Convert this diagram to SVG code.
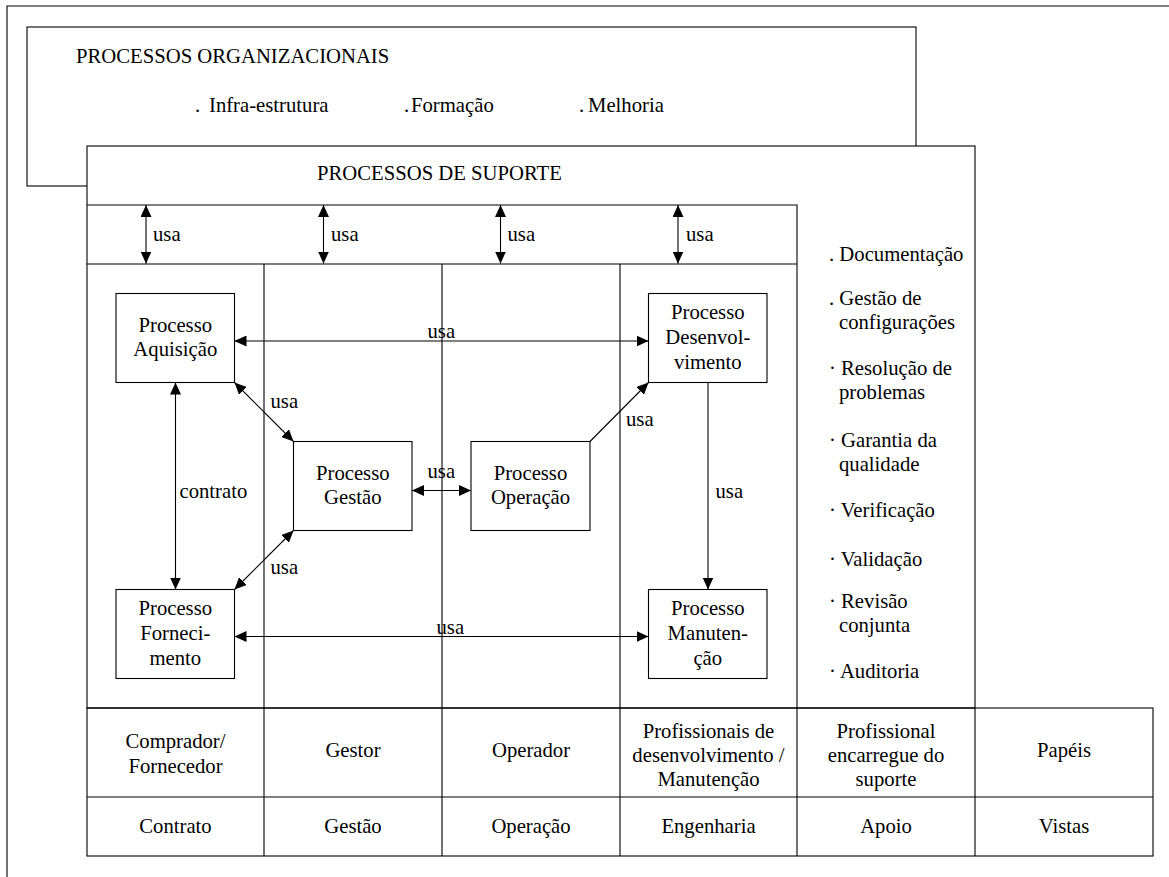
<svg xmlns="http://www.w3.org/2000/svg" width="1169" height="877" viewBox="0 0 1169 877" font-family="'Liberation Serif', Tinos, 'DejaVu Serif', 'Noto Serif', serif">
  <style>
    .ln { fill: none; stroke: #000; stroke-width: 1.1; }
    .box { fill: #fff; stroke: #000; stroke-width: 1.1; }
    .t { font-family: 'Liberation Serif', Tinos, 'DejaVu Serif', 'Noto Serif', serif; font-size: 20.7px; fill: #000; }
    .c { text-anchor: middle; }
    .con { fill: none; stroke: #000; stroke-width: 1.1; }
    .both { marker-start: url(#arr); marker-end: url(#arr); }
    .one { marker-end: url(#arr); }
  </style>
  <defs>
    <marker id="arr" markerUnits="userSpaceOnUse" markerWidth="12" markerHeight="11" refX="12" refY="5.5" orient="auto-start-reverse">
      <path d="M0,0 L12,5.5 L0,11 z" fill="#000"/>
    </marker>
  </defs>

  <rect width="1169" height="877" fill="#fff"/>

  <!-- page frame -->
  <path class="ln" d="M7,880 V6 H1172"/>

  <!-- organizational processes -->
  <g id="org">
    <rect class="box" x="27" y="27" width="889" height="159"/>
    <text class="t" x="76" y="63">PROCESSOS ORGANIZACIONAIS</text>
    <text class="t" x="195" y="112">.</text>
    <text class="t" x="209" y="112">Infra-estrutura</text>
    <text class="t" x="404" y="112">.</text>
    <text class="t" x="411" y="112">Formação</text>
    <text class="t" x="579" y="112">.</text>
    <text class="t" x="588" y="112">Melhoria</text>
  </g>

  <!-- support processes -->
  <g id="suporte">
    <rect class="box" x="87" y="146" width="888" height="562"/>
    <text class="t" x="317" y="180">PROCESSOS DE SUPORTE</text>
    <path class="ln" d="M87,205 H797 V708"/>
    <text class="t" x="829" y="261">. Documentação</text>
    <text class="t" x="829" y="305">. Gestão de</text>
    <text class="t" x="839" y="329">configurações</text>
    <text class="t" x="829" y="375">· Resolução de</text>
    <text class="t" x="839" y="399">problemas</text>
    <text class="t" x="829" y="447">· Garantia da</text>
    <text class="t" x="839" y="471">qualidade</text>
    <text class="t" x="829" y="517">· Verificação</text>
    <text class="t" x="829" y="566">· Validação</text>
    <text class="t" x="829" y="608">· Revisão</text>
    <text class="t" x="839" y="632">conjunta</text>
    <text class="t" x="829" y="678">· Auditoria</text>
  </g>

  <!-- swimlanes -->
  <g id="lanes">
    <path class="ln" d="M87,264 H797"/>
    <path class="ln" d="M264,264 V856 M442,264 V856 M620,264 V856"/>
  </g>

  <!-- roles / views table -->
  <g id="tabela">
    <rect class="ln" x="87" y="708" width="1066" height="148"/>
    <path class="ln" d="M87,797 H1153 M797,708 V856 M975,708 V856"/>
    <text class="t c" x="175.5" y="748">Comprador/</text>
    <text class="t c" x="175.5" y="773">Fornecedor</text>
    <text class="t c" x="353" y="757">Gestor</text>
    <text class="t c" x="531" y="757">Operador</text>
    <text class="t c" x="708.5" y="738">Profissionais de</text>
    <text class="t c" x="708.5" y="762">desenvolvimento /</text>
    <text class="t c" x="708.5" y="786">Manutenção</text>
    <text class="t c" x="886" y="738">Profissional</text>
    <text class="t c" x="886" y="762">encarregue do</text>
    <text class="t c" x="886" y="786">suporte</text>
    <text class="t c" x="1064" y="757">Papéis</text>
    <text class="t c" x="175.5" y="833">Contrato</text>
    <text class="t c" x="353" y="833">Gestão</text>
    <text class="t c" x="531" y="833">Operação</text>
    <text class="t c" x="708.5" y="833">Engenharia</text>
    <text class="t c" x="886" y="833">Apoio</text>
    <text class="t c" x="1064" y="833">Vistas</text>
  </g>

  <!-- process nodes -->
  <g id="aquisicao">
    <rect class="box" x="116" y="293.5" width="118.5" height="89"/>
    <text class="t c" x="175.3" y="332">Processo</text>
    <text class="t c" x="175.3" y="356">Aquisição</text>
  </g>
  <g id="desenvolvimento">
    <rect class="box" x="648.5" y="293.5" width="118.5" height="89"/>
    <text class="t c" x="707.8" y="319">Processo</text>
    <text class="t c" x="707.8" y="344">Desenvol-</text>
    <text class="t c" x="707.8" y="369">vimento</text>
  </g>
  <g id="gestao">
    <rect class="box" x="293.5" y="441.5" width="118.5" height="89"/>
    <text class="t c" x="352.8" y="480">Processo</text>
    <text class="t c" x="352.8" y="504">Gestão</text>
  </g>
  <g id="operacao">
    <rect class="box" x="471" y="441.5" width="119" height="89"/>
    <text class="t c" x="530.5" y="480">Processo</text>
    <text class="t c" x="530.5" y="504">Operação</text>
  </g>
  <g id="fornecimento">
    <rect class="box" x="116" y="589.5" width="118.5" height="89"/>
    <text class="t c" x="175.3" y="615">Processo</text>
    <text class="t c" x="175.3" y="640">Forneci-</text>
    <text class="t c" x="175.3" y="665">mento</text>
  </g>
  <g id="manutencao">
    <rect class="box" x="648.5" y="589.5" width="118.5" height="89"/>
    <text class="t c" x="707.8" y="615">Processo</text>
    <text class="t c" x="707.8" y="640">Manuten-</text>
    <text class="t c" x="707.8" y="665">ção</text>
  </g>

  <!-- connectors -->
  <g id="connectors">
    <path class="con both" d="M146,205 V263.5"/>
    <path class="con both" d="M323.5,205 V263.5"/>
    <path class="con both" d="M500.5,205 V263.5"/>
    <path class="con both" d="M678,205 V263.5"/>
    <path class="con both" d="M234.5,341 H648.5"/>
    <path class="con both" d="M175.5,382.5 V589.5"/>
    <path class="con both" d="M234.5,382.5 L293.5,441.5"/>
    <path class="con both" d="M293.5,530.5 L234.5,589.5"/>
    <path class="con both" d="M412,490.5 H471"/>
    <path class="con one" d="M590,441.5 L648.5,382.5"/>
    <path class="con one" d="M708,382.5 V589.5"/>
    <path class="con both" d="M234.5,636.5 H648.5"/>

    <text class="t" x="153" y="241">usa</text>
    <text class="t" x="331" y="241">usa</text>
    <text class="t" x="507.5" y="241">usa</text>
    <text class="t" x="686" y="241">usa</text>
    <text class="t" x="427.5" y="338">usa</text>
    <text class="t" x="179.5" y="498">contrato</text>
    <text class="t" x="270.5" y="408">usa</text>
    <text class="t" x="270.5" y="574">usa</text>
    <text class="t" x="427.5" y="478">usa</text>
    <text class="t" x="626" y="426">usa</text>
    <text class="t" x="715.5" y="498">usa</text>
    <text class="t" x="436.5" y="634">usa</text>
  </g>
</svg>
